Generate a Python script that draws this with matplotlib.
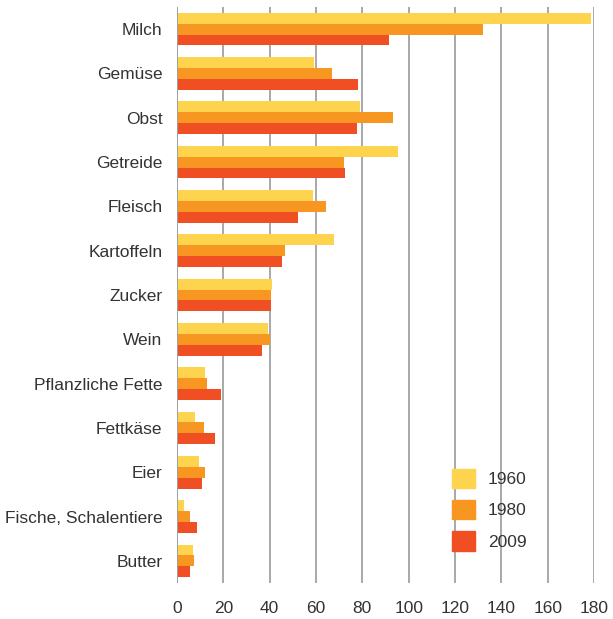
import matplotlib
matplotlib.use('Agg')
import matplotlib.pyplot as plt
import numpy as np
from matplotlib.patches import Patch

plt.rcParams['font.family'] = ['Liberation Sans', 'DejaVu Sans']

categories = ['Milch', 'Gemüse', 'Obst', 'Getreide', 'Fleisch', 'Kartoffeln',
              'Zucker', 'Wein', 'Pflanzliche Fette', 'Fettkäse', 'Eier',
              'Fische, Schalentiere', 'Butter']
v1960 = [178.6, 59.2, 78.9, 95.6, 58.8, 67.8, 41.2, 39.1, 12.1, 7.9, 9.6, 3.2, 7.1]
v1980 = [132.0, 66.9, 93.4, 72.0, 64.3, 46.8, 40.4, 40.0, 13.0, 11.8, 12.2, 5.8, 7.5]
v2009 = [91.7, 78.0, 77.6, 72.5, 52.4, 45.5, 40.4, 36.5, 19.1, 16.5, 10.9, 8.8, 5.8]
years = ['1960', '1980', '2009']
colors = ['#FED44E', '#F79722', '#F04E23']

fig = plt.figure(figsize=(6.13, 6.19), dpi=100)
ax = fig.add_axes([177/613, 1-583/619, 417/613, 576/619])

y = np.arange(len(categories))
h = 0.245
for i, vals in enumerate([v1960, v1980, v2009]):
    ax.barh(y + (i-1)*h, vals, height=h, color=colors[i], zorder=3)

ax.set_xlim(0, 180)
ax.set_ylim(len(categories)-0.5, -0.5)
ax.set_xticks(range(0, 181, 20))
ax.set_yticks(y)
ax.set_yticklabels(categories)
ax.tick_params(axis='both', length=0, labelsize=12.5, colors='#333333')
ax.tick_params(axis='y', pad=10.5)
ax.tick_params(axis='x', pad=13)
for s in ax.spines.values():
    s.set_visible(False)
ax.grid(axis='x', color='#a8a8a8', linewidth=1.4, zorder=0)
ax.axvline(0, color='#a0a0a0', linewidth=1.4, zorder=4)

handles = [Patch(color=c, label=l) for c, l in zip(colors, years)]
ax.legend(handles=handles, loc='upper left', bbox_to_anchor=(436/613, 1-453/619),
          bbox_transform=fig.transFigure,
          frameon=False, fontsize=12.5, handlelength=1.35, handleheight=1.35,
          labelspacing=0.68, handletextpad=0.75, labelcolor='#333333')

fig.savefig('out.png', dpi=100)
